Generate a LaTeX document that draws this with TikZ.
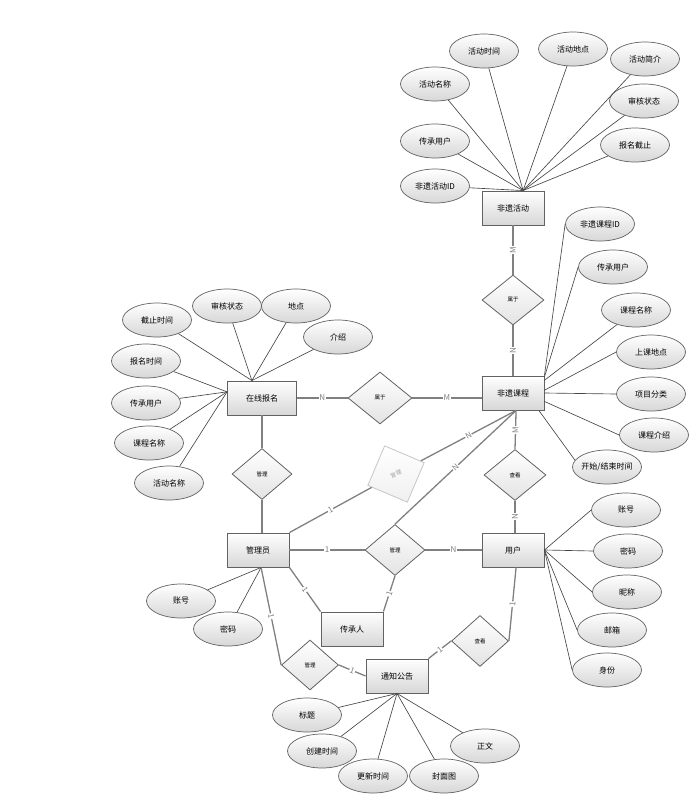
\documentclass[tikz,border=0pt]{standalone}
\usepackage{fontspec}
\setmainfont{Noto Sans CJK SC}
\usepackage{tikz}
\usetikzlibrary{shapes.geometric,calc}
\definecolor{erline}{RGB}{128,128,128}
\definecolor{erdark}{RGB}{70,70,70}
\definecolor{erfill}{RGB}{215,215,215}
\tikzset{
    entity/.style={rectangle, draw=erdark!85, top color=white, bottom color=erfill, line width=0.9pt, minimum width=62pt, minimum height=34pt, inner sep=0pt, font=\fontsize{8}{9}\selectfont},
    attr/.style={ellipse, draw=erdark!85, top color=white, bottom color=erfill, line width=0.7pt, minimum width=69pt, minimum height=34pt, inner sep=0pt, font=\fontsize{8}{9}\selectfont},
    rel/.style={diamond, draw=erdark!85, top color=white, bottom color=erfill!70, line width=0.8pt, minimum width=60pt, minimum height=51pt, inner sep=0pt, font=\fontsize{5.5}{6}\selectfont},
    relG/.style={rel, draw=gray!45, bottom color=gray!12, text=gray!75, minimum width=61pt, minimum height=61pt, rotate=22},
    link/.style={line width=1.3pt, erline},
    alink/.style={line width=0.65pt, erdark},
    card/.style={font=\fontsize{8}{9}\selectfont, fill=white, inner sep=0.6pt, midway},
}
\begin{document}
\begin{tikzpicture}[x=1pt, y=-1pt]
    \useasboundingbox (0,0) rectangle (693,809);
    % entities
    \node[entity] (act) at (513,208) {非遗活动};
    \node[entity] (crs) at (513,393) {非遗课程};
    \node[entity, minimum width=69pt] (reg) at (262,398) {在线报名};
    \node[entity] (adm) at (258,550) {管理员};
    \node[entity] (usr) at (513,550) {用户};
    \node[entity] (inh) at (352,629) {传承人};
    \node[entity] (ntc) at (397,676) {通知公告};
    % relations
    \node[rel, minimum width=62pt, minimum height=50pt] (bel1) at (513,300) {属于};
    \node[rel, minimum width=64pt, minimum height=52pt] (bel2) at (380,398) {属于};
    \node[rel] (mng1) at (262,474) {管理};
    \node[relG] (mngG) at (396,474) {管理};
    \node[rel, minimum width=62pt] (see1) at (515,475) {查看};
    \node[rel] (mng2) at (395,550) {管理};
    \node[rel, minimum width=57pt, minimum height=50pt] (mng3) at (310,665) {管理};
    \node[rel, minimum width=57pt] (see2) at (480,641) {查看};
    % attributes of 非遗活动
    \node[attr] (actName) at (435,84) {活动名称};
    \node[attr] (actTime) at (484,51) {活动时间};
    \node[attr] (actPlace) at (573,49) {活动地点};
    \node[attr] (actIntro) at (645,59) {活动简介};
    \node[attr] (actState) at (644,101) {审核状态};
    \node[attr] (actDue) at (635,145) {报名截止};
    \node[attr] (actUser) at (435,141) {传承用户};
    \node[attr] (actId) at (435,186) {非遗活动ID};
    \draw[alink] (act.60) -- (actName);
    \draw[alink] (act.60) -- (actTime);
    \draw[alink] (act.60) -- (actPlace);
    \draw[alink] (act.60) -- (actIntro);
    \draw[alink] (act.60) -- (actState);
    \draw[alink] (act.60) -- (actDue);
    \draw[alink] (act.60) -- (actUser);
    \draw[alink] (act.60) -- (actId);
    % attributes of 非遗课程
    \node[attr] (crsId) at (600,224) {非遗课程ID};
    \node[attr] (crsUser) at (613,267) {传承用户};
    \node[attr] (crsName) at (636,310) {课程名称};
    \node[attr] (crsPlace) at (651,352) {上课地点};
    \node[attr] (crsType) at (651,394) {项目分类};
    \node[attr] (crsIntro) at (654,435) {课程介绍};
    \node[attr, inner xsep=-6pt] (crsTime) at (607,467) {开始/结束时间};
    \draw[alink] (crs.north east) -- (crsId.west);
    \draw[alink] (crs.27) -- (crsUser.west);
    \draw[alink] (crs.22) -- (crsName);
    \draw[alink] (crs.5) -- (crsPlace.west);
    \draw[alink] (crs.east) -- (crsType.west);
    \draw[alink] (crs.-15) -- (crsIntro.west);
    \draw[alink] (crs.-34) -- (crsTime.168);
    % attributes of 在线报名
    \node[attr] (regDue) at (157,320) {截止时间};
    \node[attr] (regState) at (227,306) {审核状态};
    \node[attr] (regPlace) at (296,306) {地点};
    \node[attr] (regIntro) at (338,337) {介绍};
    \node[attr] (regTime) at (146,361) {报名时间};
    \node[attr] (regUser) at (146,403) {传承用户};
    \node[attr] (regCrs) at (149,443) {课程名称};
    \node[attr] (regAct) at (169,483) {活动名称};
    \draw[alink] (reg.120) -- (regDue);
    \draw[alink] (reg.120) -- (regState);
    \draw[alink] (reg.120) -- (regPlace);
    \draw[alink] (reg.120) -- (regIntro);
    \draw[alink] (reg.170) -- (regTime);
    \draw[alink] (reg.170) -- (regUser);
    \draw[alink] (reg.170) -- (regCrs);
    \draw[alink] (reg.170) -- (regAct);
    % attributes of 管理员
    \node[attr] (admAcc) at (181,601) {账号};
    \node[attr] (admPwd) at (228,629) {密码};
    \draw[alink] (adm.-80) -- (admAcc);
    \draw[alink] (adm.-80) -- (admPwd);
    % attributes of 用户
    \node[attr] (usrAcc) at (626,510) {账号};
    \node[attr] (usrPwd) at (628,551) {密码};
    \node[attr] (usrNick) at (627,592) {昵称};
    \node[attr] (usrMail) at (612,630) {邮箱};
    \node[attr] (usrRole) at (607,670) {身份};
    \draw[alink] (usr.east) -- (usrAcc.west);
    \draw[alink] (usr.east) -- (usrPwd.west);
    \draw[alink] (usr.east) -- (usrNick.west);
    \draw[alink] (usr.east) -- (usrMail.west);
    \draw[alink] (usr.east) -- (usrRole.west);
    % attributes of 通知公告
    \node[attr] (ntcTitle) at (307,715) {标题};
    \node[attr] (ntcNew) at (322,751) {创建时间};
    \node[attr] (ntcUpd) at (373,776) {更新时间};
    \node[attr] (ntcPic) at (444,776) {封面图};
    \node[attr] (ntcText) at (485,746) {正文};
    \draw[alink] (ntc.south) -- (ntcTitle);
    \draw[alink] (ntc.south) -- (ntcNew);
    \draw[alink] (ntc.south) -- (ntcUpd);
    \draw[alink] (ntc.south) -- (ntcPic);
    \draw[alink] (ntc.south) -- (ntcText);
    % relationship links
    \draw[link] (act) -- (bel1) node[card, rotate=90] {M};
    \draw[link] (bel1) -- (crs) node[card, rotate=90] {N};
    \draw[link] (reg) -- (bel2) node[card] {N};
    \draw[link] (bel2.east) -- (bel2.east -| crs.west) node[card] {M};
    \draw[link] (reg) -- (mng1);
    \draw[link] (mng1.south) -- (mng1.south |- adm.north);
    \draw[link] (adm.north east) -- (mngG) node[card, sloped] {1};
    \draw[link] (mngG) -- (crs.-80) node[card, sloped] {N};
    \draw[link] (adm) -- (mng2) node[card] {1};
    \draw[link] (mng2) -- (usr) node[card] {N};
    \draw[link] (mng2.north) -- (crs.-80) node[card, sloped] {N};
    \draw[link] (mng2.south) -- (inh.north east) node[card, sloped] {1};
    \draw[link] (adm.south east) -- (inh.north west) node[card, sloped] {1};
    \draw[link] (crs.-80) -- (see1.north) node[card, rotate=90] {M};
    \draw[link] (see1.south) -- (see1.south |- usr.north) node[card, rotate=90] {N};
    \draw[link] (adm.-80) -- (mng3.west) node[card, sloped] {1};
    \draw[link] (mng3.east) -- (ntc.west) node[card, sloped] {1};
    \draw[link] (usr.-80) -- (see2.east) node[card, sloped] {1};
    \draw[link] (see2.west) -- (ntc.north east) node[card, sloped] {1};
\end{tikzpicture}
\end{document}
